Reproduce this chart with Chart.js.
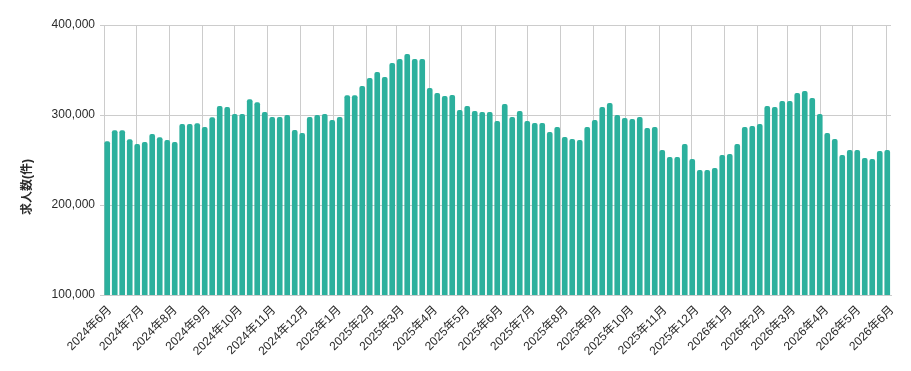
<!DOCTYPE html>
<html>
<head>
<meta charset="utf-8">
<script src="https://cdn.jsdelivr.net/npm/chart.js@4.4.1/dist/chart.umd.min.js"></script>
<style>
  html, body { margin: 0; padding: 0; background: #ffffff; }
  #wrap { width: 911px; height: 371px; position: relative; }
</style>
</head>
<body>
<div id="wrap"><canvas id="c" width="911" height="371"></canvas></div>
<script>
// Weekly observation dates (categories)
const weekDates = [
  '2024-06-04','2024-06-11','2024-06-18','2024-06-25',
  '2024-07-02','2024-07-09','2024-07-16','2024-07-23','2024-07-30',
  '2024-08-06','2024-08-13','2024-08-20','2024-08-27',
  '2024-09-03','2024-09-10','2024-09-17','2024-09-24',
  '2024-10-01','2024-10-08','2024-10-15','2024-10-22','2024-10-29',
  '2024-11-05','2024-11-12','2024-11-19','2024-11-26',
  '2024-12-03','2024-12-10','2024-12-17','2024-12-24','2024-12-31',
  '2025-01-07','2025-01-14','2025-01-21','2025-01-28',
  '2025-02-04','2025-02-11','2025-02-18','2025-02-25',
  '2025-03-04','2025-03-11','2025-03-18','2025-03-25',
  '2025-04-01','2025-04-08','2025-04-15','2025-04-22','2025-04-29',
  '2025-05-06','2025-05-13','2025-05-20','2025-05-27',
  '2025-06-03','2025-06-10','2025-06-17','2025-06-24',
  '2025-07-01','2025-07-08','2025-07-15','2025-07-22','2025-07-29',
  '2025-08-05','2025-08-12','2025-08-19','2025-08-26',
  '2025-09-02','2025-09-09','2025-09-16','2025-09-23','2025-09-30',
  '2025-10-07','2025-10-14','2025-10-21','2025-10-28',
  '2025-11-04','2025-11-11','2025-11-18','2025-11-25',
  '2025-12-02','2025-12-09','2025-12-16','2025-12-23','2025-12-30',
  '2026-01-06','2026-01-13','2026-01-20','2026-01-27',
  '2026-02-03','2026-02-10','2026-02-17','2026-02-24',
  '2026-03-03','2026-03-10','2026-03-17','2026-03-24','2026-03-31',
  '2026-04-07','2026-04-14','2026-04-21','2026-04-28',
  '2026-05-05','2026-05-12','2026-05-19','2026-05-26',
  '2026-06-02'
];

// 求人数 (件) per week
const jobCounts = [
  270400, 282600, 282600, 272600, 267400, 269600, 278500, 274800, 271900, 269600,
  289600, 289600, 290400, 286300, 297000, 309600, 308500, 300700, 300700, 317000,
  313700, 303000, 297400, 297400, 299600, 283000, 279600, 297400, 299600, 300700,
  294100, 297400, 321500, 321500, 331900, 340700, 347400, 341900, 357400, 361900,
  367400, 361900, 361900, 329600, 324100, 320700, 321900, 305200, 309600, 304100,
  303000, 303000, 293000, 311900, 297400, 304100, 293000, 290700, 290700, 280700,
  286300, 275200, 273000, 271900, 286300, 294100, 308500, 313000, 299600, 296300,
  295200, 297400, 285200, 286300, 260700, 253000, 253000, 267400, 250700, 238500,
  238500, 240700, 255200, 256300, 267400, 286300, 287400, 289600, 309600, 308500,
  315200, 315200, 324100, 326300, 318500, 300700, 279600, 273000, 255200, 260700,
  260700, 251900, 250700, 259600, 260700
];

// Month tick positions and labels
const tickDates = [
  '2024-06-01','2024-07-01','2024-08-01','2024-09-01','2024-10-01','2024-11-01','2024-12-01',
  '2025-01-01','2025-02-01','2025-03-01','2025-04-01','2025-05-01','2025-06-01','2025-07-01',
  '2025-08-01','2025-09-01','2025-10-01','2025-11-01','2025-12-01',
  '2026-01-01','2026-02-01','2026-03-01','2026-04-01','2026-05-01','2026-06-01'
];
const tickLabels = [
  '2024年6月','2024年7月','2024年8月','2024年9月','2024年10月','2024年11月','2024年12月',
  '2025年1月','2025年2月','2025年3月','2025年4月','2025年5月','2025年6月','2025年7月',
  '2025年8月','2025年9月','2025年10月','2025年11月','2025年12月',
  '2026年1月','2026年2月','2026年3月','2026年4月','2026年5月','2026年6月'
];
const yTicks = [100000, 200000, 300000, 400000];
const yTitle = '求人数(件)';

const ORIGIN = Date.UTC(2024, 5, 1);
function dayNum(s) {
  const p = s.split('-').map(Number);
  return (Date.UTC(p[0], p[1] - 1, p[2]) - ORIGIN) / 86400000;
}

const FONT = '"Liberation Sans", Arial, "Noto Sans CJK JP", sans-serif';
const TEXT = '#2b2b2b';
const GRID = '#cccccc';

const points = weekDates.map((d, i) => ({ x: dayNum(d), y: jobCounts[i] }));
const tickDays = tickDates.map(dayNum);

const yTitlePlugin = {
  id: 'yTitle',
  afterDraw(chart) {
    const ctx = chart.ctx;
    ctx.save();
    ctx.translate(28, 187);
    ctx.rotate(-Math.PI / 2);
    ctx.font = 'bold 12px ' + FONT;
    ctx.fillStyle = TEXT;
    ctx.textAlign = 'center';
    ctx.textBaseline = 'middle';
    ctx.fillText(yTitle, 0, 0);
    ctx.restore();
  }
};

new Chart(document.getElementById('c'), {
  type: 'bar',
  data: {
    datasets: [{
      data: points,
      backgroundColor: '#2cb09d',
      borderRadius: { topLeft: 2, topRight: 2 },
      borderSkipped: 'start',
      barThickness: 5
    }]
  },
  options: {
    responsive: false,
    animation: false,
    devicePixelRatio: 1,
    layout: { padding: { left: 0, top: 25, right: 20, bottom: 0 } },
    plugins: { legend: { display: false }, tooltip: { enabled: false } },
    scales: {
      x: {
        type: 'linear',
        min: 0,
        max: 734.5,
        offset: false,
        grid: { color: GRID, offset: false, drawTicks: false },
        border: { color: GRID },
        afterBuildTicks(scale) { scale.ticks = tickDays.map(v => ({ value: v })); },
        afterFit(scale) { scale.height = 76; },
        ticks: {
          autoSkip: false,
          minRotation: 45,
          maxRotation: 45,
          padding: 8,
          labelOffset: 6,
          color: TEXT,
          font: { family: FONT, size: 12 },
          callback: (v, i) => tickLabels[i]
        }
      },
      y: {
        min: 100000,
        max: 400000,
        grid: { color: GRID, tickLength: 4 },
        border: { color: GRID },
        afterBuildTicks(scale) { scale.ticks = yTicks.map(v => ({ value: v })); },
        afterFit(scale) { scale.width = 104; },
        ticks: {
          padding: 5,
          color: TEXT,
          font: { family: FONT, size: 12 },
          callback: v => v.toLocaleString('en-US')
        }
      }
    }
  },
  plugins: [yTitlePlugin]
});
</script>
</body>
</html>
